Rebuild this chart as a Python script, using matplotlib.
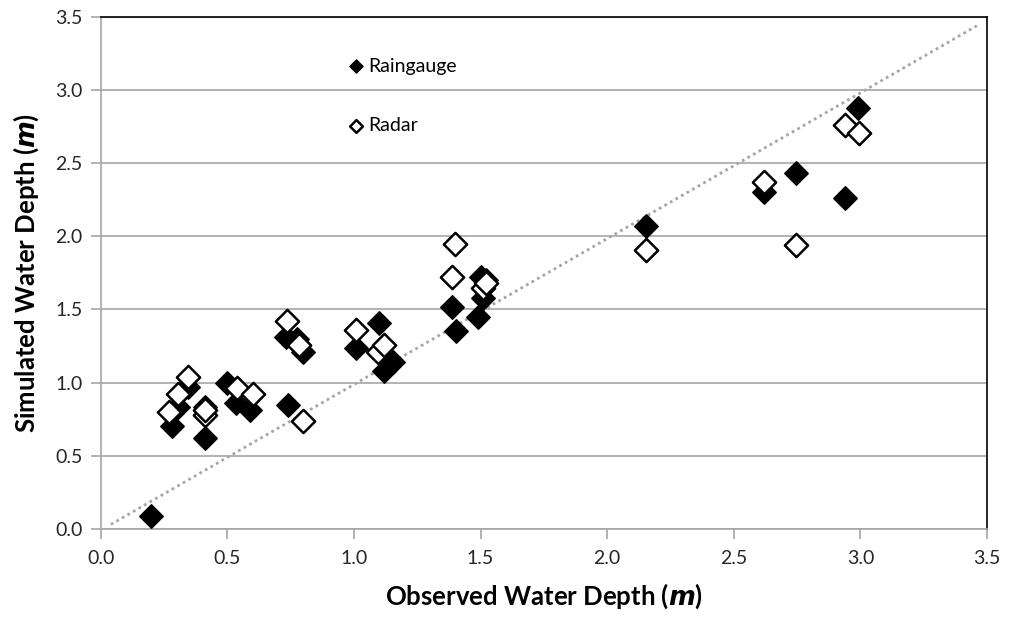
import matplotlib.pyplot as plt

# observed vs simulated water depth (m)
raingauge_x = [0.20, 0.28, 0.305, 0.345, 0.41, 0.41, 0.50, 0.535, 0.59, 0.73, 0.74, 0.775, 0.80,
               1.01, 1.10, 1.12, 1.155, 1.387, 1.405, 1.49, 1.50, 1.51, 1.52, 2.155, 2.62, 2.745,
               2.94, 2.99]
raingauge_y = [0.09, 0.70, 0.83, 0.97, 0.83, 0.62, 1.00, 0.86, 0.81, 1.31, 0.85, 1.30, 1.21,
               1.24, 1.41, 1.08, 1.14, 1.52, 1.35, 1.45, 1.72, 1.58, 1.70, 2.07, 2.30, 2.43,
               2.26, 2.88]

radar_x = [0.27, 0.305, 0.345, 0.41, 0.41, 0.54, 0.60, 0.735, 0.785, 0.80, 1.01, 1.095, 1.12,
           1.387, 1.40, 1.51, 1.52, 2.155, 2.62, 2.745, 2.94, 2.995]
radar_y = [0.80, 0.92, 1.04, 0.78, 0.81, 0.96, 0.92, 1.42, 1.26, 0.74, 1.36, 1.21, 1.26,
           1.72, 1.95, 1.65, 1.68, 1.91, 2.37, 1.94, 2.76, 2.71]

line_x = [0.04, 3.46]
line_y = [0.03, 3.44]

ticks = [0.0, 0.5, 1.0, 1.5, 2.0, 2.5, 3.0, 3.5]

plt.rcParams['font.family'] = ['Lato', 'DejaVu Sans']

fig = plt.figure(figsize=(10.1, 6.2), dpi=100)
ax = fig.add_axes([0.0997, 0.147, 0.8775, 0.8256])

ax.set_xlim(0, 3.5)
ax.set_ylim(0, 3.5)
ax.set_xticks(ticks)
ax.set_yticks(ticks)
ax.set_xticklabels(["%.1f" % t for t in ticks])
ax.set_yticklabels(["%.1f" % t for t in ticks])

ax.grid(axis="y", color="#a6a6a6", linewidth=1.2)
ax.set_axisbelow(True)

ax.plot(line_x, line_y, linestyle=(0, (1, 1.3)), color="#a6a6a6", linewidth=2, zorder=2)

ax.scatter(raingauge_x, raingauge_y, marker="D", s=140, color="black",
           edgecolors="black", linewidths=1.2, label="Raingauge", zorder=3)
ax.scatter(radar_x, radar_y, marker="D", s=140, facecolors="white",
           edgecolors="black", linewidths=1.8, label="Radar", zorder=4)

for side in ["left", "bottom"]:
    ax.spines[side].set_color("#a6a6a6")
    ax.spines[side].set_linewidth(1.2)
for side in ["top", "right"]:
    ax.spines[side].set_color("black")
    ax.spines[side].set_linewidth(1.2)

ax.tick_params(axis="both", colors="#a6a6a6", length=7, width=1.2, labelsize=14,
               labelcolor="#262626")
ax.tick_params(axis="x", pad=8)
ax.tick_params(axis="y", pad=6)

ax.set_xlabel("Observed Water Depth ($\\mathbfit{m}$)", fontsize=18.5, fontweight="bold", labelpad=11)
ax.set_ylabel("Simulated Water Depth ($\\mathbfit{m}$)", fontsize=18.5, fontweight="bold", labelpad=10)

leg = ax.legend(loc="upper left", bbox_to_anchor=(0.262, 0.955), frameon=False,
                fontsize=14, markerscale=0.55, handlelength=0.6, handletextpad=0.3,
                labelspacing=2.2)

plt.savefig("out.png", dpi=100)
